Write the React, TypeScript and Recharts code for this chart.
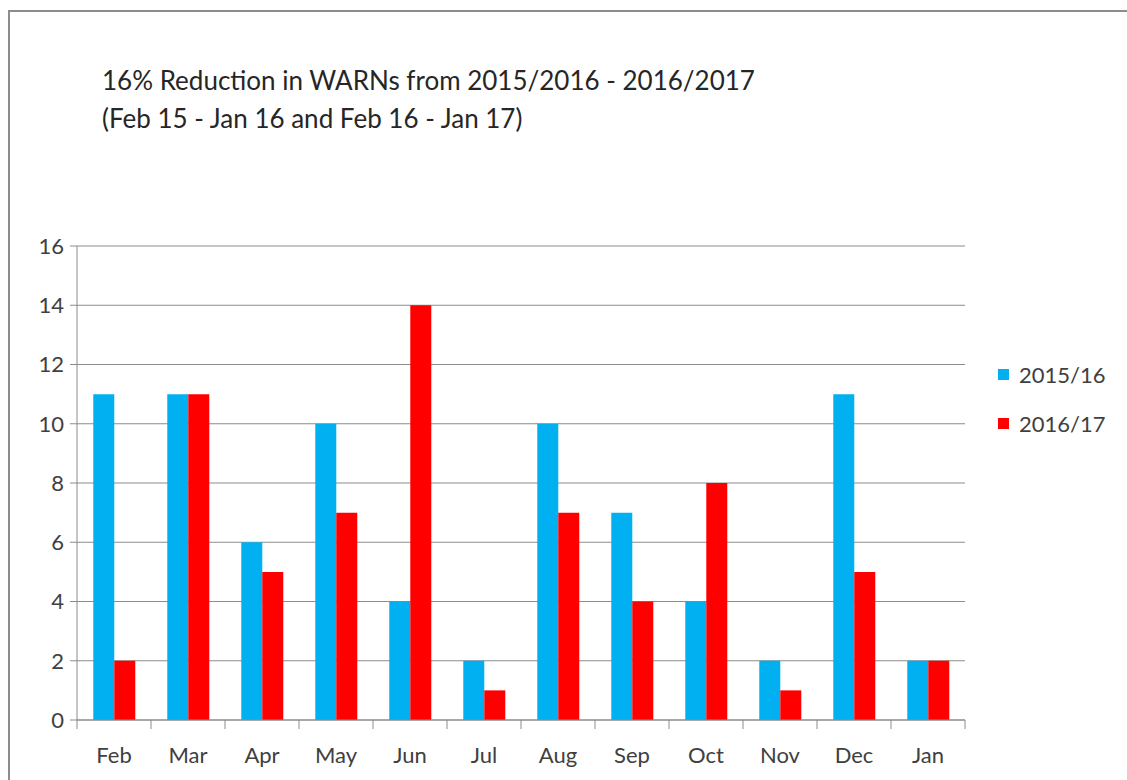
import { Bar, BarChart, CartesianGrid, XAxis, YAxis } from "recharts";

const months = ["Feb", "Mar", "Apr", "May", "Jun", "Jul", "Aug", "Sep", "Oct", "Nov", "Dec", "Jan"];
const warns1516 = [11, 11, 6, 10, 4, 2, 10, 7, 4, 2, 11, 2];
const warns1617 = [2, 11, 5, 7, 14, 1, 7, 4, 8, 1, 5, 2];
const yTicks = [0, 2, 4, 6, 8, 10, 12, 14, 16];
const seriesNames = ["2015/16", "2016/17"];
const seriesColors = ["#00b0f0", "#ff0000"];

const data = months.map((m, i) => ({ month: m, a: warns1516[i], b: warns1617[i] }));

const font = "Lato, 'Open Sans', sans-serif";
const txt = "#404040";
const band = (965 - 77) / months.length;

function MonthTick(props: any) {
  const { x, y, payload, index } = props;
  const left = x - band / 2;
  return (
    <g>
      <line x1={left} y1={y - 8} x2={left} y2={y + 1} stroke="#8c8c8c" />
      {index === months.length - 1 && <line x1={x + band / 2} y1={y - 8} x2={x + band / 2} y2={y + 1} stroke="#8c8c8c" />}
      <text x={x} y={y + 35} textAnchor="middle" fill={txt} fontSize={22} fontFamily={font}>
        {payload.value}
      </text>
    </g>
  );
}

export default function App() {
  return (
    <div style={{ position: "absolute", left: 0, top: 0, width: 1127, height: 780, overflow: "hidden", background: "#fff" }}>
      <div style={{ position: "absolute", left: 8, top: 10, width: 1200, height: 900, border: "2px solid #8c8c8c" }} />
      <div style={{ position: "absolute", left: 102, top: 61, fontFamily: font, fontSize: 26, lineHeight: "38px", color: "#262626" }}>
        <div>16% Reduction in WARNs from 2015/2016 - 2016/2017</div>
        <div>(Feb 15 - Jan 16 and Feb 16 - Jan 17)</div>
      </div>
      <div style={{ position: "absolute", left: 998, top: 350 }}>
        {seriesNames.map((n, i) => (
          <div key={n} style={{ display: "flex", alignItems: "center", height: 49, fontFamily: font, fontSize: 22, color: txt }}>
            <span style={{ width: 11, height: 11, background: seriesColors[i], marginRight: 10, display: "inline-block" }} />
            {n}
          </div>
        ))}
      </div>
      <div style={{ position: "absolute", left: 0, top: 0 }}>
        <BarChart width={1127} height={780} data={data} margin={{ top: 246, right: 162, bottom: 30, left: 0 }} barCategoryGap="22%" barGap={0}>
          <CartesianGrid vertical={false} stroke="#8c8c8c" />
          <XAxis dataKey="month" stroke="#8c8c8c" tickLine={false} tick={<MonthTick />} height={30} interval={0} />
          <YAxis domain={[0, 16]} ticks={yTicks} width={77} stroke="#8c8c8c" tickSize={7} tickMargin={6} tick={{ fill: txt, fontSize: 22, fontFamily: font }} />
          <Bar dataKey="a" name={seriesNames[0]} fill={seriesColors[0]} isAnimationActive={false} />
          <Bar dataKey="b" name={seriesNames[1]} fill={seriesColors[1]} isAnimationActive={false} />
        </BarChart>
      </div>
    </div>
  );
}
